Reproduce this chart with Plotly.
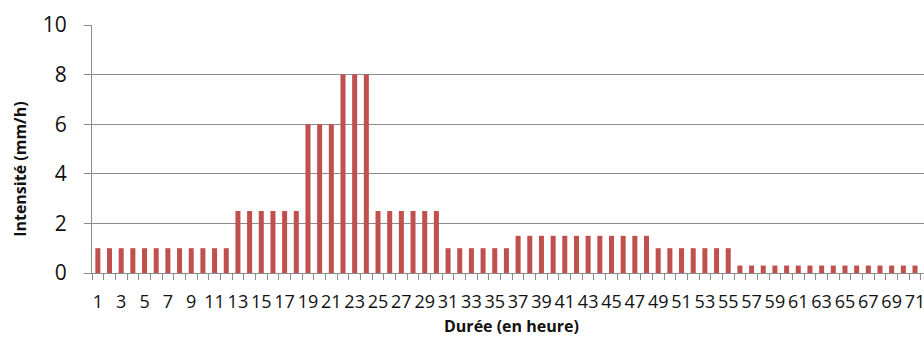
import plotly.graph_objects as go

# Rainfall intensity per hour of the event (mm/h)
hours = list(range(1, 73))
intensity = (
    [1.0] * 12      # h 1-12
    + [2.5] * 6     # h 13-18
    + [6.0] * 3     # h 19-21
    + [8.0] * 3     # h 22-24
    + [2.5] * 6     # h 25-30
    + [1.0] * 6     # h 31-36
    + [1.5] * 12    # h 37-48
    + [1.0] * 7     # h 49-55
    + [0.3] * 17    # h 56-72
)
x_tick_labels = [str(h) for h in hours[::2]]
y_ticks = [0, 2, 4, 6, 8, 10]

BAR = "#C0504D"
GRID = "#8C8C8C"
TEXT = "#111111"
FONT = "Open Sans"

fig = go.Figure(
    go.Bar(
        x=hours,
        y=intensity,
        marker=dict(color=BAR, line=dict(width=0)),
        width=0.43,
    )
)

fig.update_layout(
    width=924,
    height=337,
    margin=dict(l=92, r=0, t=25, b=64),
    plot_bgcolor="white",
    paper_bgcolor="white",
    showlegend=False,
    font=dict(family=FONT, color=TEXT),
)

fig.update_xaxes(
    range=[0.5, 71.77],
    tickmode="array",
    tickvals=hours[::2],
    ticktext=x_tick_labels,
    tickangle=0,
    ticks="",
    tickfont=dict(size=18, family=FONT, color=TEXT),
    ticklabelstandoff=12,
    ticklabeloverflow="allow",
    showline=True,
    linecolor=GRID,
    linewidth=1,
    showgrid=False,
    zeroline=False,
    minor=dict(
        tickmode="linear",
        tick0=0.5,
        dtick=1,
        ticks="outside",
        ticklen=6,
        tickcolor=GRID,
        tickwidth=1,
        showgrid=False,
    ),
)

fig.update_yaxes(
    range=[0, 10],
    tickmode="array",
    tickvals=y_ticks,
    ticks="outside",
    ticklen=7,
    tickcolor=GRID,
    tickfont=dict(size=21, family=FONT, color=TEXT),
    ticklabelstandoff=13,
    showline=True,
    linecolor=GRID,
    linewidth=1,
    showgrid=True,
    gridcolor=GRID,
    gridwidth=1,
    zeroline=False,
)

fig.add_annotation(
    text="<b>Intensité (mm/h)</b>",
    xref="paper", yref="paper",
    x=-0.0865, y=0.42,
    xanchor="center", yanchor="middle",
    textangle=-90,
    showarrow=False,
    font=dict(size=16, family=FONT, color=TEXT),
)

fig.add_annotation(
    text="<b>Durée (en heure)</b>",
    xref="paper", yref="paper",
    x=0.504, y=-0.212,
    xanchor="center", yanchor="middle",
    showarrow=False,
    font=dict(size=16, family=FONT, color=TEXT),
)

fig.write_html("out.html")
